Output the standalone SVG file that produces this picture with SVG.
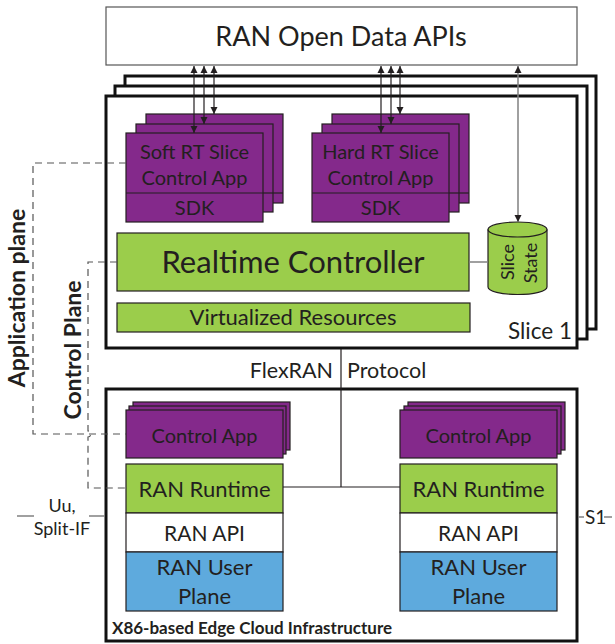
<svg xmlns="http://www.w3.org/2000/svg" width="615" height="644" viewBox="0 0 615 644">
<style>
text{font-family:Lato,"Liberation Sans",sans-serif;fill:#231f20}
.t{text-anchor:middle}
.frame{fill:#fff;stroke:#111;stroke-width:3}
.purple{fill:#84298b;stroke:#231f20;stroke-width:1.2}
.green{fill:#9bcd4b;stroke:#231f20;stroke-width:1.2}
.white{fill:#fff;stroke:#231f20;stroke-width:1.2}
.blue{fill:#5eaadd;stroke:#231f20;stroke-width:1.2}
.arr{stroke:#231f20;stroke-width:1.2;fill:none;marker-start:url(#ah);marker-end:url(#ah)}
.arrg{stroke:#808080;stroke-width:1.5;fill:none;marker-start:url(#ah);marker-end:url(#ah)}
.dash{stroke:#555;stroke-width:1.2;fill:none;stroke-dasharray:7 5}
.ln{stroke:#231f20;stroke-width:1.2;fill:none}
.gl{stroke:#808080;stroke-width:1.5;fill:none}
</style>
<defs>
<marker id="ah" viewBox="0 0 10 10" refX="10" refY="5" markerWidth="7" markerHeight="8" orient="auto-start-reverse" markerUnits="userSpaceOnUse">
<path d="M0,0 L10,5 L0,10 z" fill="#231f20"/>
</marker>
</defs>

<g id="open-data-apis">
<rect x="106" y="7" width="471" height="58" fill="#fff" stroke="#555" stroke-width="1.2"/>
<text class="t" x="341" y="46" font-size="27">RAN Open Data APIs</text>
</g>

<g id="slice-stack">
<rect class="frame" x="125" y="76" width="471" height="253"/>
<rect class="frame" x="115" y="86" width="472" height="253"/>
<rect class="frame" x="106" y="96" width="471" height="252"/>
<text x="508" y="339" font-size="22.5">Slice 1</text>
</g>

<g id="soft-rt-app">
<rect class="purple" x="146" y="114" width="137" height="89"/>
<line class="ln" x1="273" y1="193" x2="283" y2="193"/>
<rect class="purple" x="136" y="124" width="137" height="88"/>
<line class="ln" x1="263" y1="193" x2="273" y2="193"/>
<rect class="purple" x="126" y="133" width="137" height="89"/>
<line class="ln" x1="126" y1="193" x2="263" y2="193"/>
<text class="t" x="194.5" y="159" font-size="20">Soft RT Slice</text>
<text class="t" x="194.5" y="185" font-size="20">Control App</text>
<text class="t" x="194.5" y="215" font-size="20">SDK</text>
</g>

<g id="hard-rt-app">
<rect class="purple" x="332" y="114" width="137" height="89"/>
<line class="ln" x1="459" y1="193" x2="469" y2="193"/>
<rect class="purple" x="322" y="124" width="137" height="88"/>
<line class="ln" x1="449" y1="193" x2="459" y2="193"/>
<rect class="purple" x="312" y="133" width="137" height="89"/>
<line class="ln" x1="312" y1="193" x2="449" y2="193"/>
<text class="t" x="380.5" y="159" font-size="20">Hard RT Slice</text>
<text class="t" x="380.5" y="185" font-size="20">Control App</text>
<text class="t" x="380.5" y="215" font-size="20">SDK</text>
</g>

<g id="realtime-controller">
<rect class="green" x="117" y="233" width="352" height="58"/>
<text class="t" x="293" y="273" font-size="31">Realtime Controller</text>
</g>

<g id="virtualized-resources">
<rect class="green" x="117" y="303" width="353" height="29"/>
<text class="t" x="293" y="325" font-size="22">Virtualized Resources</text>
</g>

<g id="slice-state">
<path class="green" d="M488,229.5 A29.5,7.5 0 0 1 547,229.5 L547,287 A29.5,7.5 0 0 1 488,287 Z"/>
<path class="ln" d="M488,229.5 A29.5,7.5 0 0 0 547,229.5"/>
<text class="t" transform="translate(514,262) rotate(-90)" font-size="18">Slice</text>
<text class="t" transform="translate(537,263) rotate(-90)" font-size="18">State</text>
</g>

<g id="edge-cloud">
<rect class="frame" x="106" y="389" width="471" height="252"/>
<text x="112" y="634" font-size="17" font-weight="bold">X86-based Edge Cloud Infrastructure</text>
</g>

<g id="control-app-left">
<rect class="purple" x="133" y="402" width="157" height="48"/>
<rect class="purple" x="129" y="406" width="157" height="48"/>
<rect class="purple" x="126" y="410" width="157" height="48"/>
<text class="t" x="204.5" y="443" font-size="20">Control App</text>
</g>

<g id="ran-stack-left">
<rect class="green" x="126" y="464" width="157" height="49"/>
<text class="t" x="204.5" y="497" font-size="22">RAN Runtime</text>
<rect class="white" x="126" y="513" width="157" height="39"/>
<text class="t" x="204.5" y="541" font-size="21">RAN API</text>
<rect class="blue" x="126" y="552" width="157" height="59"/>
<text class="t" x="204.5" y="575" font-size="22">RAN User</text>
<text class="t" x="204.5" y="604" font-size="22">Plane</text>
</g>

<g id="control-app-right">
<rect class="purple" x="408" y="402" width="157" height="48"/>
<rect class="purple" x="404" y="406" width="157" height="48"/>
<rect class="purple" x="400" y="410" width="157" height="48"/>
<text class="t" x="478.5" y="443" font-size="20">Control App</text>
</g>

<g id="ran-stack-right">
<rect class="green" x="400" y="464" width="157" height="49"/>
<text class="t" x="478.5" y="497" font-size="22">RAN Runtime</text>
<rect class="white" x="400" y="513" width="157" height="39"/>
<text class="t" x="478.5" y="541" font-size="21">RAN API</text>
<rect class="blue" x="400" y="552" width="157" height="59"/>
<text class="t" x="478.5" y="575" font-size="22">RAN User</text>
<text class="t" x="478.5" y="604" font-size="22">Plane</text>
</g>

<g id="labels">
<text class="t" transform="translate(25,298) rotate(-90)" font-size="23" font-weight="bold">Application plane</text>
<text class="t" transform="translate(81,350) rotate(-90)" font-size="23" font-weight="bold">Control Plane</text>
<text x="333" y="378" font-size="21.5" text-anchor="end">FlexRAN</text>
<text x="347" y="378" font-size="21.5">Protocol</text>
<text class="t" x="62" y="512" font-size="18">Uu,</text>
<text class="t" x="62" y="535" font-size="18">Split-IF</text>
<text x="585" y="524" font-size="19">S1</text>
</g>

<g id="connectors">
<line class="arr" x1="194" y1="66" x2="194" y2="133"/>
<line class="arr" x1="204" y1="66" x2="204" y2="124"/>
<line class="arr" x1="214" y1="66" x2="214" y2="114"/>
<line class="arr" x1="381" y1="66" x2="381" y2="133"/>
<line class="arr" x1="391" y1="66" x2="391" y2="124"/>
<line class="arr" x1="400" y1="66" x2="400" y2="114"/>
<line class="arrg" x1="518" y1="66" x2="518" y2="222"/>
<line class="gl" x1="469" y1="262" x2="488" y2="262"/>
<path class="ln" d="M341,349 V487 M283,487 H400"/>
<path class="dash" d="M126,163 H33 V434 H126"/>
<path class="dash" d="M117,262 H88 V431 A3,3 0 0 1 88,437 V488 H126"/>
<line class="gl" x1="17" y1="516" x2="34" y2="516"/>
<line class="gl" x1="89" y1="516" x2="105" y2="516"/>
<line class="gl" x1="578" y1="517" x2="584" y2="517"/>
<line class="gl" x1="604" y1="517" x2="612" y2="517"/>
</g>
</svg>
